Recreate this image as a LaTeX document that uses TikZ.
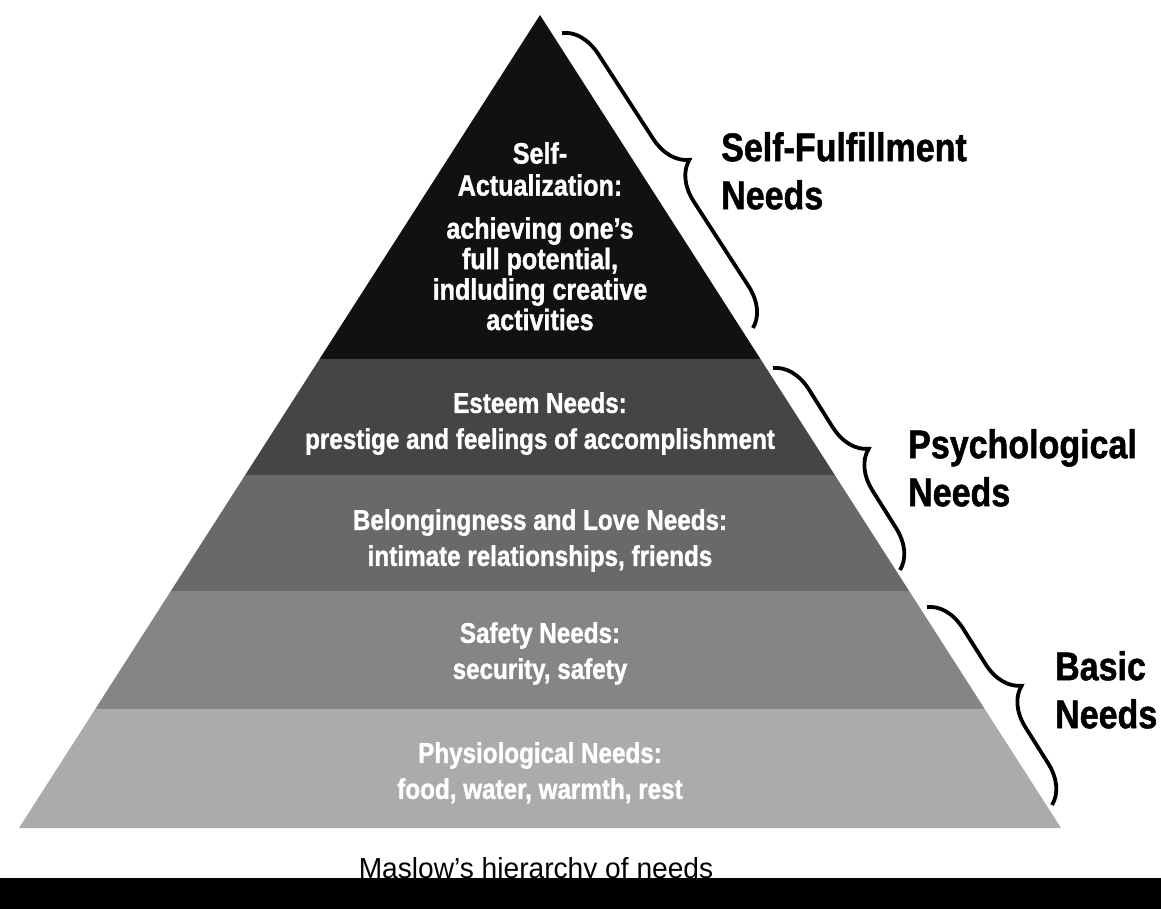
\documentclass[tikz,border=0pt]{standalone}
\usepackage{fontspec}
\setmainfont[FakeStretch=0.85, BoldFeatures={FakeBold=1.2}]{Liberation Sans}
\newfontfamily\capfont[FakeStretch=0.97]{Liberation Sans}
\usetikzlibrary{calc, positioning, decorations.pathreplacing}

\definecolor{selfcol}{HTML}{111111}
\definecolor{esteemcol}{HTML}{454545}
\definecolor{lovecol}{HTML}{696969}
\definecolor{safetycol}{HTML}{858585}
\definecolor{physiocol}{HTML}{ABABAB}

\begin{document}
\begin{tikzpicture}[x=1pt, y=-1pt,
  lvltext/.style={text=white, font=\fontsize{28.5}{36}\selectfont\bfseries, align=center, inner sep=0pt, anchor=north},
  grouptext/.style={font=\fontsize{40}{48}\selectfont\bfseries, align=left, inner sep=0pt, anchor=north west},
  needbrace/.style={decorate, decoration={brace, amplitude=38pt}, line width=3.8pt}]

  \useasboundingbox[fill=white] (0,0) rectangle (1161,909);

  \coordinate (apex) at (540,15);
  \coordinate (bl) at (19,828);
  \coordinate (br) at (1061,828);
  \coordinate (l1) at ($(apex)!0.4231!(bl)$);
  \coordinate (r1) at ($(apex)!0.4231!(br)$);
  \coordinate (l2) at ($(apex)!0.5658!(bl)$);
  \coordinate (r2) at ($(apex)!0.5658!(br)$);
  \coordinate (l3) at ($(apex)!0.7085!(bl)$);
  \coordinate (r3) at ($(apex)!0.7085!(br)$);
  \coordinate (l4) at ($(apex)!0.8536!(bl)$);
  \coordinate (r4) at ($(apex)!0.8536!(br)$);

  \fill[selfcol] (apex) -- (r1) -- (l1) -- cycle;
  \fill[esteemcol] (l1) -- (r1) -- (r2) -- (l2) -- cycle;
  \fill[lovecol] (l2) -- (r2) -- (r3) -- (l3) -- cycle;
  \fill[safetycol] (l3) -- (r3) -- (r4) -- (l4) -- cycle;
  \fill[physiocol] (l4) -- (r4) -- (br) -- (bl) -- cycle;

  \node[lvltext, font=\fontsize{29.5}{32}\selectfont\bfseries] (selfhead) at (540,142) {Self-\\Actualization:};
  \node[lvltext, font=\fontsize{29.5}{30.5}\selectfont\bfseries] (selfdesc) at (540,217) {achieving one’s\\full potential,\\indluding creative\\activities};
  \node[lvltext] (esteem) at (540,392) {Esteem Needs:\\prestige and feelings of accomplishment};
  \node[lvltext] (love) at (540,509) {Belongingness and Love Needs:\\intimate relationships, friends};
  \node[lvltext] (safety) at (540,622) {Safety Needs:\\security, safety};
  \node[lvltext] (physio) at (540,742) {Physiological Needs:\\food, water, warmth, rest};

  \coordinate (b1top) at (562,33);
  \coordinate (b1bot) at (753,328);
  \coordinate (b2top) at (773,368);
  \coordinate (b2bot) at (900,570);
  \coordinate (b3top) at (927,607);
  \coordinate (b3bot) at (1052,805);
  \draw[needbrace] (b1top) -- (b1bot);
  \draw[needbrace] (b2top) -- (b2bot);
  \draw[needbrace] (b3top) -- (b3bot);

  \node[grouptext] (fulfil) at (721,132) {Self-Fulfillment\\Needs};
  \node[grouptext] (psych) at (908,429) {Psychological\\Needs};
  \node[grouptext] (basic) at (1055,651) {Basic\\Needs};

  \node[font=\capfont\fontsize{29}{34}\selectfont, anchor=base, inner sep=0pt] (caption) at (536,878) {Maslow’s hierarchy of needs};
  \fill[black] (0,878) rectangle (1161,909);
\end{tikzpicture}
\end{document}
